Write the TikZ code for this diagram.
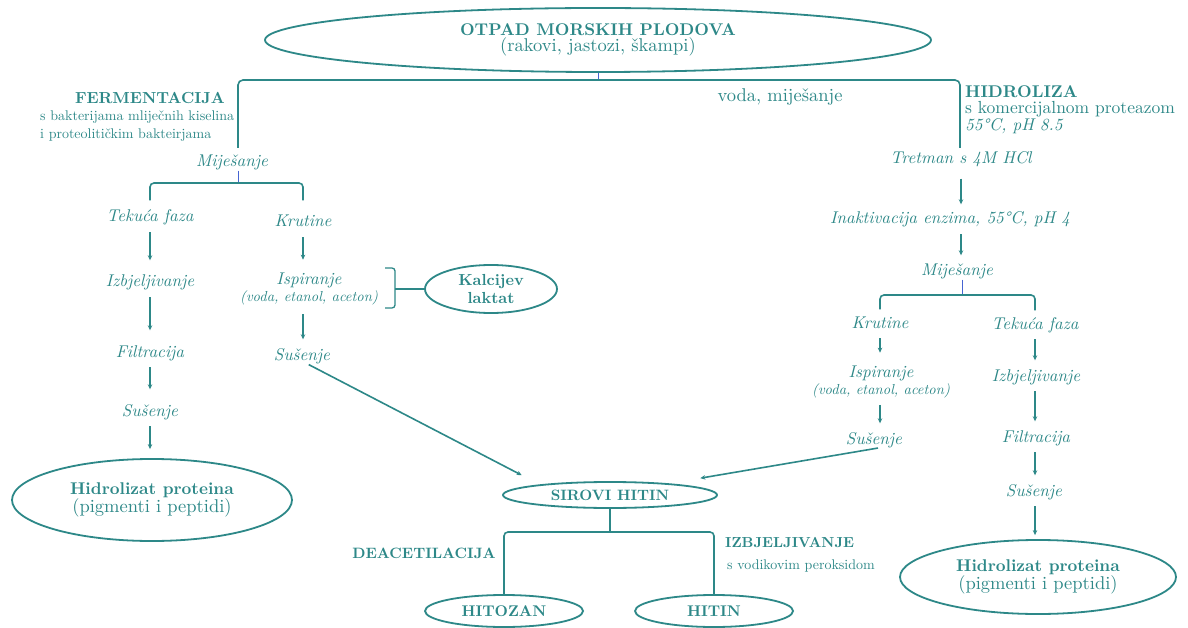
\documentclass[tikz,border=0pt]{standalone}
\usepackage{fontspec}
\setmainfont{lmroman10-regular.otf}[BoldFont=lmroman10-bold.otf,ItalicFont=lmroman10-italic.otf,BoldItalicFont=lmroman10-bolditalic.otf]
\usetikzlibrary{shapes.geometric,arrows.meta,calc}
\definecolor{tl}{RGB}{45,136,136}
\definecolor{tk}{RGB}{70,100,210}
\begin{document}
\begin{tikzpicture}[x=1pt,y=-1pt,
 txt/.style={text=tl,inner sep=0pt,font=\itshape\fontsize{17}{20}\selectfont,text height=11.5pt,text depth=3.5pt},
 two/.style={text=tl,inner sep=0pt,align=center,font=\itshape\fontsize{17}{20}\selectfont},
 bld/.style={text=tl,inner sep=0pt,font=\bfseries\fontsize{15}{18}\selectfont},
 sml/.style={text=tl,inner sep=0pt,font=\fontsize{14}{18}\selectfont},
 ell/.style={ellipse,draw=tl,line width=1.8pt,inner sep=0pt,text=tl,align=center},
 conn/.style={draw=tl,line width=1.6pt},
 arr/.style={conn,-{Stealth[length=5pt,width=4.5pt]},shorten <=6.5pt,shorten >=9pt},
 tck/.style={draw=tk,line width=0.8pt}]
\fill[white] (0,0) rectangle (1188,628);
\useasboundingbox (0,0) rectangle (1188,628);

% source
\node[ell,minimum width=666pt,minimum height=64pt] (src) at (598,40)
  {{\bfseries\fontsize{17}{20}\selectfont OTPAD MORSKIH PLODOVA}\\[1pt]{\fontsize{18.5}{20}\selectfont (rakovi, jastozi, škampi)}};
\coordinate (topj) at (598,80);
\coordinate (fl) at (238,148);
\coordinate (hr) at (960,148);
\draw[tck] (src.south) -- (topj);
\draw[conn,rounded corners=5pt] (fl) |- (topj) -| (hr);

\node[bld,font=\bfseries\fontsize{16}{19}\selectfont,anchor=east] (ferm) at (225,98) {FERMENTACIJA};
\node[sml,anchor=west,align=left] (fermd) at (40,126) {s bakterijama mliječnih kiselina\\i proteolitičkim bakteirjama};
\node[sml,font=\fontsize{18.5}{20}\selectfont] (voda) at (780,97) {voda, miješanje};
\node[bld,font=\bfseries\fontsize{17}{19}\selectfont,anchor=west] (hid) at (965,92) {HIDROLIZA};
\node[sml,font=\fontsize{17.5}{19}\selectfont,anchor=west] (hidd) at (965,109) {s komercijalnom proteazom};
\node[txt,anchor=west] (hidc) at (965,127) {55°C, pH 8.5};

% left branch
\node[txt] (mixL) at (232,163) {Miješanje};
\coordinate (lj) at (238,183);
\draw[tck] (mixL.south -| lj) -- (lj);
\node[txt] (tekL) at (150,218) {Tekuća faza};
\node[txt] (kruL) at (303,223) {Krutine};
\draw[conn,rounded corners=4pt] ([yshift=10pt]tekL.north) |- (lj) -| ([yshift=15pt]kruL.north);
\node[txt] (izbL) at (150,283) {Izbjeljivanje};
\node[txt] (filL) at (150,353) {Filtracija};
\node[txt] (susL) at (150,412) {Sušenje};
\node[ell,minimum width=280pt,minimum height=82pt] (hidL) at (152,500)
  {{\bfseries\fontsize{17}{19}\selectfont Hidrolizat proteina}\\[0pt]{\fontsize{18.5}{19}\selectfont(pigmenti i peptidi)}};
\draw[arr,shorten >=15pt] (tekL) -- (izbL);
\draw[arr,shorten >=15pt] (izbL) -- (filL);
\draw[arr,shorten >=15pt] (filL) -- (susL);
\draw[arr,shorten >=9pt] (susL) -- (susL |- hidL.north);

\node[two] (ispL) at (309,289) {Ispiranje\\[-3pt]{\fontsize{14.5}{16}\selectfont(voda, etanol, aceton)}};
\node[txt] (susK) at (302,356) {Sušenje};
\draw[arr,shorten >=13pt] (kruL) -- (kruL |- ispL.north);
\draw[arr,shorten <=9pt] (kruL |- ispL.south) -- (kruL |- susK.north);

\node[ell,minimum width=132pt,minimum height=48pt,font=\bfseries\fontsize{16}{18}\selectfont] (kal) at (491,289) {Kalcijev\\laktat};
\coordinate (bt) at (385,268);
\coordinate (bm) at (395,289);
\draw[conn,line width=1.3pt,rounded corners=3pt] (bt) -- ++(10,0) -- ++(0,40) -- ++(-10,0);
\draw[conn,line width=1.3pt] (bm) -- (kal.west);

% crude chitin
\node[ell,minimum width=214pt,minimum height=26pt,font=\bfseries\fontsize{15}{18}\selectfont] (sir) at (610,495) {SIROVI HITIN};
\draw[arr,shorten <=2pt,shorten >=0pt] ([xshift=5pt]susK.south) -- ([xshift=-12pt,yshift=10pt]sir.north west);

\node[ell,minimum width=158pt,minimum height=32pt,font=\bfseries\fontsize{15.5}{18}\selectfont] (hitz) at (504,611) {HITOZAN};
\node[ell,minimum width=158pt,minimum height=32pt,font=\bfseries\fontsize{15.5}{18}\selectfont] (hit) at (714,611) {HITIN};
\coordinate (sj) at (610,532);
\draw[conn] (sir.south) -- (sj);
\draw[conn,rounded corners=4pt] (hitz.north) |- (sj) -| (hit.north);
\node[bld] (deac) at (424,553) {DEACETILACIJA};
\node[bld,font=\bfseries\fontsize{14.5}{18}\selectfont,anchor=west] (izbH) at (725,543) {IZBJELJIVANJE};
\node[sml,anchor=west] (izbHd) at (727,566) {s vodikovim peroksidom};

% right branch
\node[txt] (tret) at (961,160) {Tretman s 4M HCl};
\node[txt] (inak) at (950,220) {Inaktivacija enzima, 55°C, pH 4};
\node[txt] (mixR) at (957,272) {Miješanje};
\draw[arr,shorten <=11pt,shorten >=8pt] (tret) -- (tret |- inak.north);
\draw[arr] (tret |- inak.south) -- (tret |- mixR.north);
\coordinate (rj) at (962,295);
\draw[tck] (mixR.south -| rj) -- (rj);
\node[txt] (kruR) at (880,324) {Krutine};
\node[txt] (tekR) at (1035,325) {Tekuća faza};
\draw[conn,rounded corners=4pt] ([yshift=7pt]kruR.north) |- (rj) -| ([yshift=7pt]tekR.north);
\node[two] (ispR) at (881,382) {Ispiranje\\[-3pt]{\fontsize{14.5}{16}\selectfont(voda, etanol, aceton)}};
\node[txt] (susR) at (874,440) {Sušenje};
\draw[arr,shorten >=13pt] (kruR) -- (kruR |- ispR.north);
\draw[arr] (kruR |- ispR.south) -- (kruR |- susR.north);
\draw[arr,shorten <=2pt,shorten >=0pt] ([xshift=6pt]susR.south) -- ([xshift=14pt,yshift=7pt]sir.north east);

\node[txt] (izbR) at (1036,377) {Izbjeljivanje};
\node[txt] (filR) at (1036,438) {Filtracija};
\node[txt] (susR2) at (1034,492) {Sušenje};
\node[ell,minimum width=276pt,minimum height=74pt] (hidR) at (1038,577)
  {{\bfseries\fontsize{17}{19}\selectfont Hidrolizat proteina}\\[0pt]{\fontsize{18.5}{19}\selectfont(pigmenti i peptidi)}};
\draw[arr] (tekR) -- (tekR |- izbR.north);
\draw[arr] (tekR |- izbR.south) -- (tekR |- filR.north);
\draw[arr] (tekR |- filR.south) -- (tekR |- susR2.north);
\draw[arr,shorten >=4pt] (tekR |- susR2.south) -- (tekR |- hidR.north);
\end{tikzpicture}
\end{document}
